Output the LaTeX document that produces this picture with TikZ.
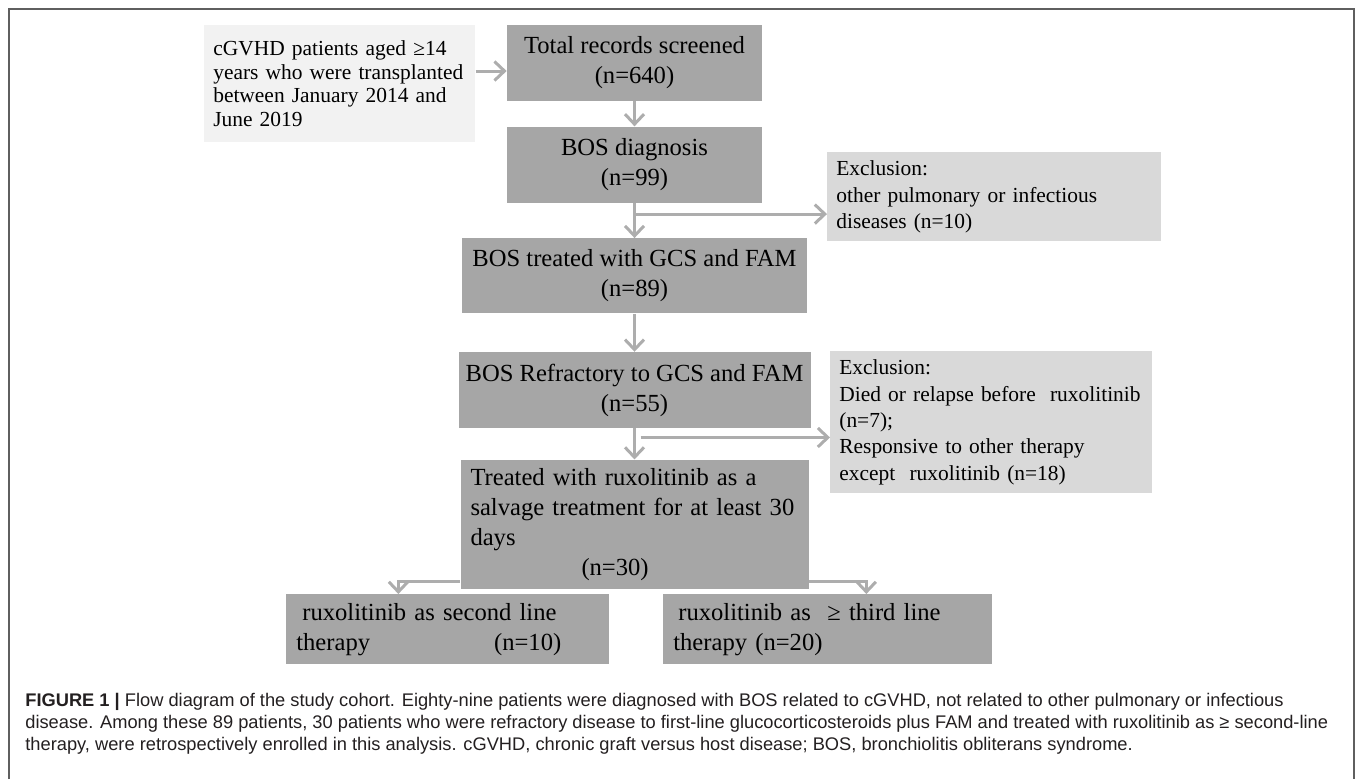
\documentclass[tikz,border=0pt]{standalone}
\usepackage{fontspec}
\setmainfont{Liberation Serif}
\setsansfont{Liberation Sans}
\usetikzlibrary{arrows.meta,positioning}
\definecolor{boxgrey}{HTML}{A6A6A6}
\definecolor{exclgrey}{HTML}{D9D9D9}
\definecolor{srcgrey}{HTML}{F2F2F2}
\definecolor{arrgrey}{HTML}{ADADAD}
\definecolor{framegrey}{HTML}{5F5F5F}
\definecolor{captext}{HTML}{231F20}

\begin{document}
\begin{tikzpicture}[
  box/.style={fill=boxgrey, align=center, inner sep=0pt, minimum height=1.52cm, font=\fontsize{14}{17}\selectfont},
  leftbox/.style={fill=boxgrey, align=left, inner xsep=0.2cm, inner ysep=0pt, font=\fontsize{14}{17}\selectfont},
  excl/.style={fill=exclgrey, align=left, inner xsep=0.18cm, inner ysep=0pt, font=\fontsize{12.2}{15}\selectfont},
  arr/.style={-{Straight Barb[length=0.2cm,width=0.38cm]}, line width=0.06cm, draw=arrgrey}
]
\useasboundingbox (0,0) rectangle (27.1,-15.58);
\draw[framegrey, line width=0.04cm] (0.18,-15.58) -- (0.18,-0.17) -- (27.08,-0.17) -- (27.08,-15.58);

\node[box, minimum width=5.1cm] (tot) at (12.69,-1.26) {Total records screened\\(n=640)};
\node[box, minimum width=5.1cm, below=0.5cm of tot] (diag) {BOS diagnosis\\(n=99)};
\node[box, minimum width=6.9cm, minimum height=1.5cm, below=0.7cm of diag] (gcs) {BOS treated with GCS and FAM\\(n=89)};
\node[box, minimum width=7.04cm, below=0.76cm of gcs] (refr) {BOS Refractory to GCS and FAM\\(n=55)};
\node[leftbox, text width=6.56cm, minimum height=2.58cm, below=0.62cm of refr] (rux) {Treated with ruxolitinib as a\\salvage treatment for at least 30\\days\\\hspace*{2.22cm}(n=30)};

\node[leftbox, fill=srcgrey, text width=5.06cm, inner xsep=0.18cm, minimum height=2.34cm, font=\fontsize{12.2}{13.4}\selectfont, left=0.62cm of tot.north west, anchor=north east] (inp) {cGVHD patients aged ≥14\\years who were transplanted\\between January 2014 and\\June 2019};

\node[excl, text width=6.32cm, minimum height=1.78cm, anchor=north west] (ex1) at (16.54,-3.04) {Exclusion:\\other pulmonary or infectious\\diseases (n=10)};
\node[excl, text width=6.08cm, minimum height=2.84cm, anchor=north west] (ex2) at (16.6,-7.02) {Exclusion:\\Died or relapse before\ \ ruxolitinib\\(n=7);\\Responsive to other therapy\\except\ \ ruxolitinib (n=18)};

\node[leftbox, text width=6.06cm, minimum height=1.4cm, anchor=north west] (sec) at (5.72,-11.88) {\hspace*{0.12cm}ruxolitinib as second line\\therapy\hspace{2.48cm}(n=10)};
\node[leftbox, text width=6.18cm, minimum height=1.4cm, anchor=north west] (third) at (13.26,-11.88) {\hspace*{0.1cm}ruxolitinib as\ \ ≥ third line\\therapy (n=20)};

\node[font=\sffamily\fontsize{10.4}{12.4}\selectfont, text=captext, align=left, inner sep=0pt, anchor=north west] (cap) at (0.5,-13.86) {\textbf{FIGURE 1 |} Flow diagram of the study cohort. Eighty-nine patients were diagnosed with BOS related to cGVHD, not related to other pulmonary or infectious\\disease. Among these 89 patients, 30 patients who were refractory disease to first-line glucocorticosteroids plus FAM and treated with ruxolitinib as ≥ second-line\\therapy, were retrospectively enrolled in this analysis. cGVHD, chronic graft versus host disease; BOS, bronchiolitis obliterans syndrome.};

\coordinate (inparr) at ([yshift=-0.16cm]tot.west);
\coordinate (br1) at ([yshift=-0.22cm]diag.south);
\coordinate (br2) at ([xshift=0.12cm,yshift=-0.18cm]refr.south);

\draw[arr] (inp.east |- inparr) -- (inparr);
\draw[arr] (tot) -- (diag);
\draw[arr] (diag) -- (gcs);
\draw[arr] (br1) -- (br1 -| ex1.west);
\draw[arr] (gcs) -- (refr);
\draw[arr] (refr) -- (rux);
\draw[arr] (br2) -- (br2 -| ex2.west);
\draw[arr] ([yshift=0.16cm]rux.south west) -| ([xshift=-0.99cm]sec.north);
\draw[arr] ([yshift=0.16cm]rux.south east) -| ([xshift=0.77cm]third.north);

\end{tikzpicture}
\end{document}
